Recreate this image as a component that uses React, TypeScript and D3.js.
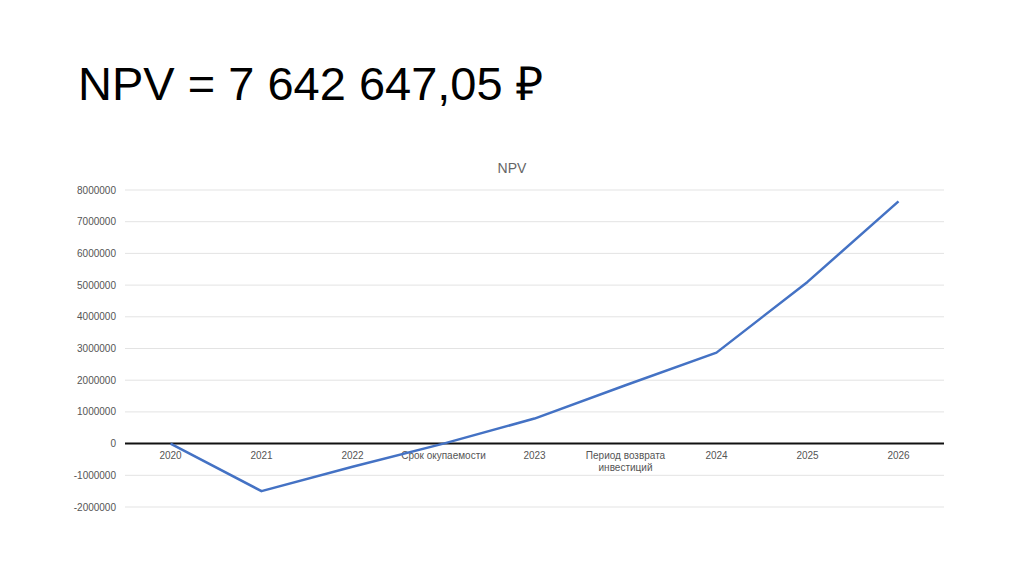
import React from "react";
import * as d3 from "d3";

const categories = ["2020", "2021", "2022", "Срок окупаемости", "2023", "Период возврата инвестиций", "2024", "2025", "2026"];
const npvValues = [0, -1500000, -730000, 0, 790000, 1840000, 2870000, 5100000, 7642647];
const yTicks = [-2000000, -1000000, 0, 1000000, 2000000, 3000000, 4000000, 5000000, 6000000, 7000000, 8000000];

const W = 1024, H = 574;
const left = 125, right = 944, top = 190, bottom = 507;

export default function App() {
  const x = d3.scaleBand<string>().domain(categories).range([left, right]);
  const y = d3.scaleLinear().domain([-2000000, 8000000]).range([bottom, top]);
  const line = d3.line<number>()
    .x((_, i) => (x(categories[i]) as number) + x.bandwidth() / 2)
    .y((d) => y(d));
  const font = "Liberation Sans, Arial, sans-serif";
  return (
    <svg width={W} height={H} style={{ position: "absolute", left: 0, top: 0, background: "#fff" }}>
      <text x={78} y={100} fontFamily={font} fontSize={47} fill="#000">NPV = 7 642 647,05 ₽</text>
      <text x={512} y={173} textAnchor="middle" fontFamily={font} fontSize={14} fill="#666">NPV</text>
      {yTicks.map((t) => (
        <g key={t}>
          {t !== 0 && <line x1={left} x2={right} y1={y(t)} y2={y(t)} stroke="#e3e3e3" strokeWidth={1} />}
          <text x={116} y={y(t) + 3.5} textAnchor="end" fontFamily={font} fontSize={10} fill="#555">{t}</text>
        </g>
      ))}
      <line x1={left} x2={right} y1={y(0)} y2={y(0)} stroke="#111" strokeWidth={2} />
      {categories.map((c) => {
        const cx = (x(c) as number) + x.bandwidth() / 2;
        const words = c === "Период возврата инвестиций" ? ["Период возврата", "инвестиций"] : [c];
        return (
          <text key={c} x={cx} y={y(0) + 15} textAnchor="middle" fontFamily={font} fontSize={10} fill="#555">
            {words.map((w, i) => (
              <tspan key={i} x={cx} dy={i === 0 ? 0 : 12}>{w}</tspan>
            ))}
          </text>
        );
      })}
      <path d={line(npvValues) || ""} fill="none" stroke="#4472c4" strokeWidth={2.5} strokeLinejoin="round" />
    </svg>
  );
}
